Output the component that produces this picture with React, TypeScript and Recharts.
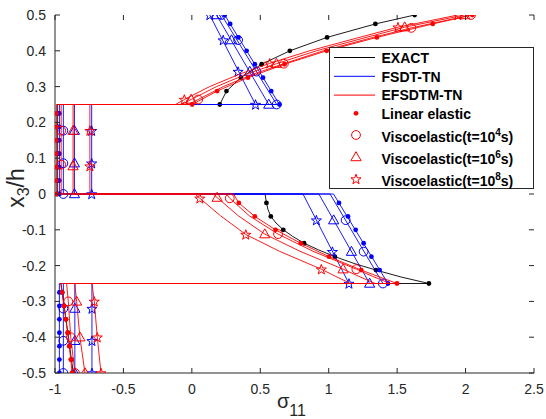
import React from 'react'
import { ScatterChart, Scatter, XAxis, YAxis } from 'recharts'

type Pt = [number, number] // [sigma_11, x3/h]

const xTicks = [-1, -0.5, 0, 0.5, 1, 1.5, 2, 2.5]
const yTicks = [-0.5, -0.4, -0.3, -0.2, -0.1, 0, 0.1, 0.2, 0.3, 0.4, 0.5]

// EXACT (linear elastic)
const exactLine: Pt[] = [
  [-0.866, -0.5], [-0.88, -0.4625], [-0.893, -0.425], [-0.906, -0.3875], [-0.92, -0.35],
  [-0.933, -0.3125], [-0.947, -0.275], [-0.956, -0.25],
  [1.732, -0.25], [1.53, -0.232], [1.345, -0.2125], [1.185, -0.194], [1.045, -0.175],
  [0.925, -0.156], [0.82, -0.1375], [0.735, -0.118], [0.668, -0.1], [0.615, -0.081],
  [0.577, -0.0625], [0.556, -0.043], [0.545, -0.025], [0.535, 0],
  [-0.983, 0], [-0.983, 0.25],
  [0.204, 0.25], [0.253, 0.2875], [0.358, 0.325], [0.51, 0.3625], [0.716, 0.4],
  [0.988, 0.4375], [1.341, 0.475], [1.628, 0.5],
]
const exactDots: Pt[] = [
  [-0.866, -0.5], [-0.88, -0.4625], [-0.893, -0.425], [-0.906, -0.3875], [-0.92, -0.35],
  [-0.933, -0.3125], [-0.947, -0.275],
  [1.732, -0.25], [1.345, -0.2125], [1.045, -0.175], [0.82, -0.1375], [0.668, -0.1],
  [0.577, -0.0625], [0.545, -0.025],
  [-0.983, 0], [-0.983, 0.0375], [-0.983, 0.075], [-0.983, 0.1125], [-0.983, 0.15],
  [-0.983, 0.1875], [-0.983, 0.225],
  [0.204, 0.25], [0.253, 0.2875], [0.358, 0.325], [0.51, 0.3625], [0.716, 0.4],
  [0.988, 0.4375], [1.341, 0.475], [1.628, 0.5],
]

// FSDT-TN
const fsdtLeLine: Pt[] = [
  [-0.968, -0.5], [-0.968, -0.25], [1.433, -0.25], [1.035, 0],
  [-0.968, 0], [-0.968, 0.25], [0.64, 0.25], [0.24, 0.5],
]
const fsdtLeDots: Pt[] = [
  [-0.968, -0.5], [-0.968, -0.4625], [-0.968, -0.425], [-0.968, -0.3875], [-0.968, -0.35],
  [-0.968, -0.3125], [-0.968, -0.275],
  [1.433, -0.25], [1.372, -0.2125], [1.312, -0.175], [1.255, -0.1375], [1.197, -0.1],
  [1.141, -0.0625], [1.075, -0.025],
  [-0.968, 0], [-0.968, 0.0375], [-0.968, 0.075], [-0.968, 0.1125], [-0.968, 0.15],
  [-0.968, 0.1875], [-0.968, 0.225],
  [0.64, 0.25], [0.58, 0.2875], [0.52, 0.325], [0.46, 0.3625], [0.4, 0.4],
  [0.34, 0.4375], [0.28, 0.475], [0.24, 0.5],
]
const fsdtT4Line: Pt[] = [
  [-0.939, -0.5], [-0.939, -0.25], [1.396, -0.25], [1.01, 0],
  [-0.939, 0], [-0.939, 0.25], [0.62, 0.25], [0.217, 0.5],
]
const fsdtT4Marks: Pt[] = [
  [-0.939, -0.5], [-0.939, -0.41], [-0.939, -0.32],
  [1.396, -0.25], [1.255, -0.161], [1.124, -0.073],
  [-0.939, 0], [-0.939, 0.086], [-0.939, 0.177],
  [0.62, 0.25], [0.472, 0.342], [0.338, 0.43], [0.217, 0.5],
]
const fsdtT6Line: Pt[] = [
  [-0.855, -0.5], [-0.855, -0.25], [1.299, -0.25], [0.928, 0],
  [-0.858, 0], [-0.858, 0.25], [0.562, 0.25], [0.18, 0.5],
]
const fsdtT6Marks: Pt[] = [
  [-0.855, -0.5], [-0.855, -0.41], [-0.855, -0.32],
  [1.299, -0.25], [1.166, -0.161], [1.036, -0.073],
  [-0.858, 0], [-0.858, 0.086], [-0.858, 0.177],
  [0.562, 0.25], [0.423, 0.342], [0.29, 0.43], [0.18, 0.5],
]
const fsdtT8Line: Pt[] = [
  [-0.73, -0.5], [-0.73, -0.25], [1.148, -0.25], [0.812, 0],
  [-0.732, 0], [-0.732, 0.25], [0.465, 0.25], [0.131, 0.5],
]
const fsdtT8Marks: Pt[] = [
  [-0.73, -0.5], [-0.73, -0.41], [-0.73, -0.32],
  [1.148, -0.25], [1.027, -0.161], [0.91, -0.073],
  [-0.732, 0], [-0.732, 0.086], [-0.732, 0.177],
  [0.465, 0.25], [0.338, 0.342], [0.229, 0.43], [0.131, 0.5],
]

// EFSDTM-TN
const efsdtLeLine: Pt[] = [
  [-0.875, -0.5], [-0.885, -0.4625], [-0.896, -0.425], [-0.908, -0.3875], [-0.921, -0.35],
  [-0.934, -0.3125], [-0.948, -0.275], [-0.958, -0.25],
  [1.499, -0.25], [1.238, -0.2125], [1.002, -0.175], [0.796, -0.1375], [0.611, -0.1],
  [0.46, -0.0625], [0.343, -0.025], [0.305, 0],
  [-0.99, 0], [-0.99, 0.25],
  [0.002, 0.25], [0.185, 0.2875], [0.41, 0.325], [0.677, 0.3625], [0.985, 0.4],
  [1.352, 0.4375], [1.76, 0.475], [2.05, 0.5],
]
const efsdtLeDots: Pt[] = [
  [-0.875, -0.5], [-0.885, -0.4625], [-0.896, -0.425], [-0.908, -0.3875], [-0.921, -0.35],
  [-0.934, -0.3125], [-0.948, -0.275],
  [1.499, -0.25], [1.238, -0.2125], [1.002, -0.175], [0.796, -0.1375], [0.611, -0.1],
  [0.46, -0.0625], [0.343, -0.025],
  [-0.99, 0], [-0.99, 0.0375], [-0.99, 0.075], [-0.99, 0.1125], [-0.99, 0.15],
  [-0.99, 0.1875], [-0.99, 0.225],
  [0.002, 0.25], [0.185, 0.2875], [0.41, 0.325], [0.677, 0.3625], [0.985, 0.4],
  [1.352, 0.4375], [1.76, 0.475], [2.05, 0.5],
]
const efsdtT4Line: Pt[] = [
  [-0.854, -0.5], [-0.885, -0.4], [-0.903, -0.3], [-0.915, -0.25],
  [1.45, -0.25], [1.32, -0.23], [1.202, -0.21], [0.885, -0.16], [0.63, -0.112],
  [0.42, -0.061], [0.277, -0.012], [0.253, 0],
  [-0.955, 0], [-0.955, 0.25],
  [-0.025, 0.25], [0.046, 0.264], [0.23, 0.3], [0.45, 0.335], [0.672, 0.364],
  [0.96, 0.4], [1.3, 0.435], [1.604, 0.464], [2.04, 0.5],
]
const efsdtT4Marks: Pt[] = [
  [-0.854, -0.5], [-0.885, -0.4], [-0.903, -0.3],
  [1.202, -0.21], [0.63, -0.112], [0.277, -0.012],
  [-0.955, 0.082], [-0.955, 0.177],
  [0.046, 0.264], [0.672, 0.364], [1.604, 0.464], [2.04, 0.5],
]
const efsdtT6Line: Pt[] = [
  [-0.781, -0.5], [-0.818, -0.4], [-0.842, -0.3], [-0.855, -0.25],
  [1.34, -0.25], [1.22, -0.23], [1.105, -0.21], [0.79, -0.16], [0.533, -0.112],
  [0.34, -0.061], [0.185, -0.01], [0.156, 0],
  [-0.868, 0], [-0.868, 0.25],
  [-0.075, 0.25], [-0.005, 0.264], [0.18, 0.3], [0.4, 0.335], [0.618, 0.364],
  [0.91, 0.4], [1.25, 0.435], [1.555, 0.466], [1.993, 0.5],
]
const efsdtT6Marks: Pt[] = [
  [-0.781, -0.5], [-0.818, -0.4], [-0.842, -0.3],
  [1.105, -0.21], [0.533, -0.112], [0.185, -0.01],
  [-0.868, 0.078], [-0.868, 0.177],
  [-0.005, 0.264], [0.618, 0.364], [1.555, 0.466], [1.993, 0.5],
]
const efsdtT8Line: Pt[] = [
  [-0.664, -0.5], [-0.691, -0.4], [-0.713, -0.3], [-0.73, -0.25],
  [1.16, -0.25], [1.05, -0.23], [0.946, -0.21], [0.64, -0.16], [0.394, -0.113],
  [0.21, -0.061], [0.058, -0.012], [0.022, 0],
  [-0.745, 0], [-0.745, 0.25],
  [-0.12, 0.25], [-0.055, 0.264], [0.13, 0.3], [0.35, 0.335], [0.569, 0.365],
  [0.86, 0.4], [1.2, 0.435], [1.506, 0.466], [1.944, 0.5],
]
const efsdtT8Marks: Pt[] = [
  [-0.664, -0.5], [-0.691, -0.4], [-0.713, -0.3],
  [0.946, -0.21], [0.394, -0.113], [0.058, -0.012],
  [-0.745, 0.078], [-0.745, 0.177],
  [-0.055, 0.264], [0.569, 0.365], [1.506, 0.466], [1.944, 0.5],
]

const BLACK = '#000000'
const BLUE = '#0000ff'
const RED = '#ff0000'
const AXIS = '#262626'

type Marker = 'dot' | 'circle' | 'triangle' | 'star'

const series: { line: Pt[]; marks: Pt[]; color: string; marker: Marker }[] = [
  { line: exactLine, marks: exactDots, color: BLACK, marker: 'dot' },
  { line: fsdtLeLine, marks: fsdtLeDots, color: BLUE, marker: 'dot' },
  { line: fsdtT4Line, marks: fsdtT4Marks, color: BLUE, marker: 'circle' },
  { line: fsdtT6Line, marks: fsdtT6Marks, color: BLUE, marker: 'triangle' },
  { line: fsdtT8Line, marks: fsdtT8Marks, color: BLUE, marker: 'star' },
  { line: efsdtLeLine, marks: efsdtLeDots, color: RED, marker: 'dot' },
  { line: efsdtT4Line, marks: efsdtT4Marks, color: RED, marker: 'circle' },
  { line: efsdtT6Line, marks: efsdtT6Marks, color: RED, marker: 'triangle' },
  { line: efsdtT8Line, marks: efsdtT8Marks, color: RED, marker: 'star' },
]

// plot box (follows from the margins and axis sizes below)
const M = { top: 15, right: 12, bottom: 16, left: 5 }
const W = 546
const H = 419
const X_AXIS_H = 30
const Y_AXIS_W = 50
const PL = M.left + Y_AXIS_W
const PR = W - M.right
const PT = M.top
const PB = H - M.bottom - X_AXIS_H
const TICK = 5

const toXY = (pts: Pt[]) => pts.map(([x, y]) => ({ x, y }))

function starPath(cx: number, cy: number, R: number) {
  const r = R * 0.4
  let d = ''
  for (let i = 0; i < 10; i++) {
    const rad = i % 2 === 0 ? R : r
    const a = (-90 + i * 36) * (Math.PI / 180)
    d += (i === 0 ? 'M' : 'L') + (cx + rad * Math.cos(a)).toFixed(2) + ',' + (cy + rad * Math.sin(a)).toFixed(2)
  }
  return d + 'Z'
}

function drawMarker(kind: Marker, color: string, cx: number, cy: number) {
  if (kind === 'dot') return <circle cx={cx} cy={cy} r={2.4} fill={color} />
  if (kind === 'circle')
    return <circle cx={cx} cy={cy} r={4.4} fill="none" stroke={color} strokeWidth={1} />
  if (kind === 'triangle')
    return (
      <polygon
        points={`${cx},${cy - 5.3} ${cx + 5.1},${cy + 3.7} ${cx - 5.1},${cy + 3.7}`}
        fill="none"
        stroke={color}
        strokeWidth={1}
      />
    )
  return <path d={starPath(cx, cy + 0.5, 5.3)} fill="none" stroke={color} strokeWidth={1} />
}

const markerShape = (kind: Marker, color: string) => (p: any) => {
  if (p.cx == null || p.cy == null) return <g />
  return drawMarker(kind, color, p.cx, p.cy)
}
const noShape = () => <g />

// ticks point inward on all four sides, as in the original figure
const XTick = (p: any) => (
  <g>
    <line x1={p.x} x2={p.x} y1={PB} y2={PB - TICK} stroke={AXIS} />
    <line x1={p.x} x2={p.x} y1={PT} y2={PT + TICK} stroke={AXIS} />
    <text x={p.x} y={p.y} dy="0.71em" textAnchor="middle" fontSize={14} fill={AXIS}>
      {String(p.payload.value)}
    </text>
  </g>
)
const YTick = (p: any) => (
  <g>
    <line x1={PL} x2={PL + TICK} y1={p.y} y2={p.y} stroke={AXIS} />
    <line x1={PR} x2={PR - TICK} y1={p.y} y2={p.y} stroke={AXIS} />
    <text x={p.x} y={p.y} dy="0.36em" textAnchor="end" fontSize={14} fill={AXIS}>
      {String(p.payload.value)}
    </text>
  </g>
)

const legendLines = [
  { label: 'EXACT', color: BLACK },
  { label: 'FSDT-TN', color: BLUE },
  { label: 'EFSDTM-TN', color: RED },
]
const legendMarks: { marker: Marker; text: string; sup?: string }[] = [
  { marker: 'dot', text: 'Linear elastic' },
  { marker: 'circle', text: 'Viscoelastic(t=10', sup: '4' },
  { marker: 'triangle', text: 'Viscoelastic(t=10', sup: '6' },
  { marker: 'star', text: 'Viscoelastic(t=10', sup: '8' },
]

export default function App() {
  return (
    <div
      style={{
        position: 'absolute',
        left: 0,
        top: 0,
        width: W,
        height: H,
        background: '#fff',
        fontFamily: '"Liberation Sans", Arial, sans-serif',
      }}
    >
      <ScatterChart width={W} height={H} margin={M}>
        <XAxis
          type="number"
          dataKey="x"
          domain={[-1, 2.5]}
          ticks={xTicks}
          interval={0}
          allowDataOverflow
          height={X_AXIS_H}
          tickLine={false}
          tickSize={0}
          tickMargin={11}
          stroke={AXIS}
          tick={XTick}
        />
        <XAxis
          xAxisId="top"
          orientation="top"
          type="number"
          dataKey="x"
          domain={[-1, 2.5]}
          ticks={xTicks}
          allowDataOverflow
          height={0}
          tickLine={false}
          stroke={AXIS}
          tick={noShape}
        />
        <YAxis
          type="number"
          dataKey="y"
          domain={[-0.5, 0.5]}
          ticks={yTicks}
          interval={0}
          allowDataOverflow
          width={Y_AXIS_W}
          tickLine={false}
          tickSize={0}
          tickMargin={9}
          stroke={AXIS}
          tick={YTick}
        />
        <YAxis
          yAxisId="right"
          orientation="right"
          type="number"
          dataKey="y"
          domain={[-0.5, 0.5]}
          ticks={yTicks}
          allowDataOverflow
          width={0}
          tickLine={false}
          stroke={AXIS}
          tick={noShape}
        />
        {series.flatMap((s, i) => [
          <Scatter
            key={'l' + i}
            data={toXY(s.line)}
            line={{ stroke: s.color, strokeWidth: 0.9 }}
            lineType="joint"
            shape={noShape}
            legendType="none"
            isAnimationActive={false}
          />,
          <Scatter
            key={'m' + i}
            data={toXY(s.marks)}
            shape={markerShape(s.marker, s.color)}
            legendType="none"
            isAnimationActive={false}
          />,
        ])}
      </ScatterChart>

      <svg width={W} height={H} style={{ position: 'absolute', left: 0, top: 0, pointerEvents: 'none' }}>
        {/* axis labels */}
        <text transform="translate(24,188) rotate(-90)" textAnchor="middle" fontSize={23} fill={AXIS}>
          x<tspan fontSize={16} dy={5}>3</tspan>
          <tspan dy={-5}>/h</tspan>
        </text>
        <text x={277} y={408} fontSize={20} fill={AXIS}>
          σ<tspan fontSize={16} dy={8}>11</tspan>
        </text>

        {/* legend */}
        <rect x={329.5} y={47.5} width={204} height={141} fill="#fff" stroke={AXIS} strokeWidth={1} />
        {legendLines.map((l, i) => (
          <g key={l.label}>
            <line x1={334} x2={375} y1={57.5 + i * 18.8} y2={57.5 + i * 18.8} stroke={l.color} strokeWidth={1} />
            <text x={381.5} y={62.7 + i * 18.8} fontSize={14} fontWeight="bold" fill="#000">
              {l.label}
            </text>
          </g>
        ))}
        {legendMarks.map((m, i) => {
          const base = i === 0 ? 118.5 : 142 + (i - 1) * 22
          const my = i === 0 ? 113.3 : base - 7
          return (
            <g key={i}>
              {drawMarker(m.marker, RED, 356, my)}
              <text x={381.5} y={base} fontSize={14} fontWeight="bold" fill="#000">
                {m.text}
                {m.sup && (
                  <>
                    <tspan fontSize={10} dy={-6}>
                      {m.sup}
                    </tspan>
                    <tspan dy={6}>s)</tspan>
                  </>
                )}
              </text>
            </g>
          )
        })}
      </svg>
    </div>
  )
}
